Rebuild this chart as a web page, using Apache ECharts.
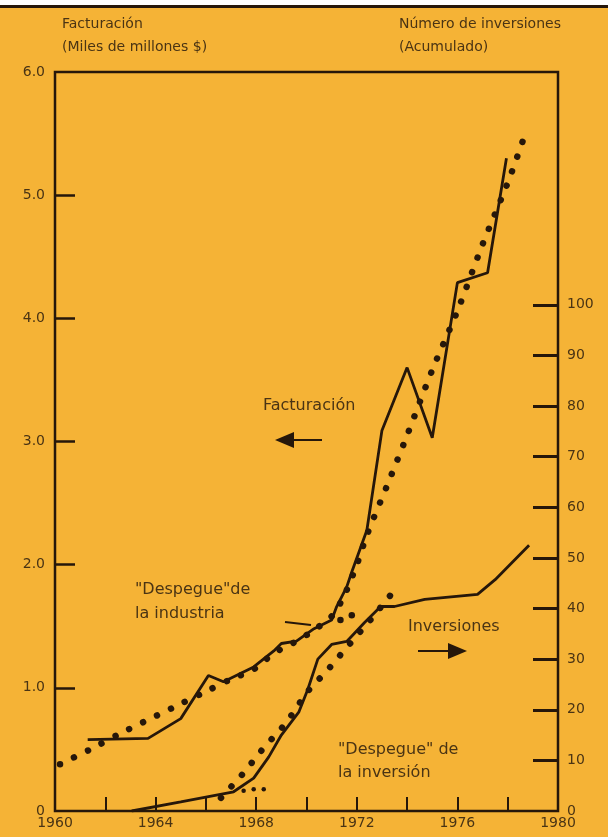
<!DOCTYPE html>
<html>
<head>
<meta charset="utf-8">
<script src="https://cdn.jsdelivr.net/npm/echarts@6/dist/echarts.min.js"></script>
<style>html,body{margin:0;padding:0;background:#f5b336;}#c{width:608px;height:837px;}</style>
</head>
<body>
<div id="c"></div>
<script>
// ---- Data ----
// Facturación (solid), thousand-million $
const factYears  = [1961.3, 1963.7, 1965.0, 1966.1, 1966.7, 1967.9, 1968.7, 1969.0, 1969.6, 1970.3, 1971.0, 1971.2, 1971.6, 1971.8, 1972.4, 1973.0, 1974.0, 1975.0, 1976.0, 1977.2, 1977.95];
const factValues = [0.58, 0.59, 0.75, 1.10, 1.05, 1.17, 1.30, 1.36, 1.38, 1.48, 1.55, 1.66, 1.82, 1.94, 2.28, 3.09, 3.60, 3.03, 4.29, 4.37, 5.30];
// Facturación trend (dotted)
const factTrendYears  = [1960.2, 1961.4, 1962.6, 1963.8, 1965.0, 1966.1, 1967.0, 1967.9, 1968.7, 1969.7, 1970.3, 1971.0, 1971.5, 1972.0, 1972.4, 1973.2, 1974.0, 1975.0, 1976.0, 1977.0, 1978.0, 1978.6];
const factTrendValues = [0.38, 0.50, 0.63, 0.75, 0.87, 0.98, 1.07, 1.15, 1.28, 1.39, 1.47, 1.58, 1.75, 2.00, 2.24, 2.64, 3.05, 3.58, 4.06, 4.60, 5.10, 5.44];
// Inversiones acumuladas (solid, right axis)
const invYears  = [1963.05, 1965.0, 1967.1, 1967.9, 1968.5, 1969.0, 1969.7, 1970.05, 1970.45, 1971.0, 1971.6, 1972.3, 1972.95, 1973.5, 1974.7, 1976.8, 1977.5, 1978.85];
const invValues = [0, 1.8, 3.8, 6.5, 10.7, 15, 19.6, 24, 30, 32.9, 33.5, 37.2, 40.4, 40.4, 41.8, 42.8, 45.7, 52.5];
// Inversiones trend (dotted)
const invTrendYears  = [1966.6, 1967.5, 1968.3, 1969.2, 1970.0, 1970.85, 1971.7, 1972.55, 1973.4];
const invTrendValues = [2.6, 7.5, 12.5, 17.4, 23.4, 27.9, 32.9, 37.8, 43.0];
// small "take-off" dot marks
const invTakeoffYears  = [1967.5, 1967.9, 1968.3];
const invTakeoffValues = [4.0, 4.3, 4.3];
const indTakeoffYears  = [1971.35, 1971.8];
const indTakeoffValues = [1.55, 1.59];
// Axis ticks / labels
const xLabelYears = [1960, 1964, 1968, 1972, 1976, 1980];
const xTickYears  = [1962, 1964, 1966, 1968, 1970, 1972, 1974, 1976, 1978];
const leftTicks   = [0, 1, 2, 3, 4, 5, 6];
const rightTicks  = [0, 10, 20, 30, 40, 50, 60, 70, 80, 90, 100];

const zip = (a, b) => a.map((v, i) => [v, b[i]]);
const INK = '#26170a';
const TXT = '#4a3414';
const FONT = 'DejaVu Sans';

const chart = echarts.init(document.getElementById('c'), null, {renderer: 'canvas'});
const dotStyle = {color: INK, width: 6.5, type: [0.01, 15.5], cap: 'round'};
const t = (x, y, text, size) => ({type: 'text', x, y, style: {text, fill: TXT, font: size + 'px "DejaVu Sans"', verticalAlign: 'middle'}});
chart.setOption({
  backgroundColor: '#f5b336',
  animation: false,
  grid: {left: 55, right: 50, top: 72, bottom: 26, show: true, borderColor: INK, borderWidth: 2.5, backgroundColor: 'transparent'},
  xAxis: {
    type: 'value', min: 1960, max: 1980, interval: 2,
    axisLine: {show: false},
    splitLine: {show: false},
    axisTick: {show: true, inside: true, length: 14, lineStyle: {color: INK, width: 2}, customValues: xTickYears},
    axisLabel: {color: TXT, fontFamily: FONT, fontSize: 14, margin: 5, customValues: xLabelYears, formatter: v => String(v)}
  },
  yAxis: [{
    type: 'value', min: 0, max: 6, interval: 1, position: 'left',
    axisLine: {show: false}, splitLine: {show: false},
    axisTick: {show: true, inside: true, length: 20, lineStyle: {color: INK, width: 2.5}, customValues: [1, 2, 3, 4, 5]},
    axisLabel: {color: TXT, fontFamily: FONT, fontSize: 14, margin: 10, customValues: leftTicks, formatter: v => v === 0 ? '0' : v.toFixed(1)}
  }, {
    type: 'value', min: 0, max: 146, position: 'right',
    axisLine: {show: false}, splitLine: {show: false},
    axisTick: {show: true, inside: true, length: 25, lineStyle: {color: INK, width: 3}, customValues: rightTicks.slice(1)},
    axisLabel: {color: TXT, fontFamily: FONT, fontSize: 14, margin: 9, customValues: rightTicks, formatter: v => String(v)}
  }],
  series: [
    {name: 'Facturación', type: 'line', yAxisIndex: 0, data: zip(factYears, factValues), showSymbol: false, lineStyle: {color: INK, width: 2.8}},
    {name: 'Facturación tendencia', type: 'line', yAxisIndex: 0, data: zip(factTrendYears, factTrendValues), showSymbol: false, smooth: 0.3, lineStyle: dotStyle},
    {name: 'Inversiones', type: 'line', yAxisIndex: 1, data: zip(invYears, invValues), showSymbol: false, lineStyle: {color: INK, width: 2.8}},
    {name: 'Inversiones tendencia', type: 'line', yAxisIndex: 1, data: zip(invTrendYears, invTrendValues), showSymbol: false, lineStyle: dotStyle},
    {name: 'despegue inv', type: 'scatter', yAxisIndex: 1, data: zip(invTakeoffYears, invTakeoffValues), symbolSize: 4.5, itemStyle: {color: INK, opacity: 1}},
    {name: 'despegue ind', type: 'scatter', yAxisIndex: 0, data: zip(indTakeoffYears, indTakeoffValues), symbolSize: 6.5, itemStyle: {color: INK, opacity: 1}}
  ],
  graphic: [
    {type: 'rect', shape: {x: 0, y: 0, width: 608, height: 5}, style: {fill: '#ffffff'}},
    {type: 'rect', shape: {x: 0, y: 5, width: 608, height: 3}, style: {fill: INK}},
    t(62, 24, 'Facturación', 14),
    t(62, 47, '(Miles de millones $)', 14),
    t(399, 24, 'Número de inversiones', 14),
    t(399, 47, '(Acumulado)', 14),
    t(263, 406, 'Facturación', 16),
    {type: 'line', shape: {x1: 292, y1: 440, x2: 322, y2: 440}, style: {stroke: INK, lineWidth: 2}},
    {type: 'polygon', shape: {points: [[275, 440], [294, 432], [294, 448]]}, style: {fill: INK}},
    t(408, 627, 'Inversiones', 16),
    {type: 'line', shape: {x1: 418, y1: 651, x2: 449, y2: 651}, style: {stroke: INK, lineWidth: 2}},
    {type: 'polygon', shape: {points: [[467, 651], [448, 643], [448, 659]]}, style: {fill: INK}},
    t(135, 590, '"Despegue"de', 16),
    t(135, 614, 'la industria', 16),
    {type: 'line', shape: {x1: 285, y1: 622, x2: 311, y2: 625}, style: {stroke: INK, lineWidth: 2}},
    t(338, 750, '"Despegue" de', 16),
    t(338, 773, 'la inversión', 16)
  ]
});
</script>
</body>
</html>
